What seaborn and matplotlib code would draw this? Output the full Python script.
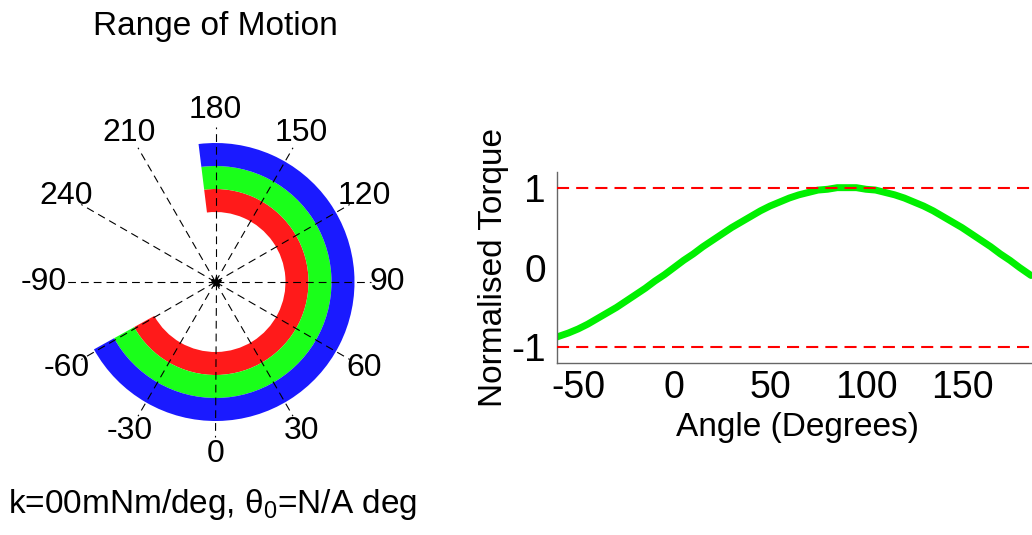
import numpy as np
import pandas as pd
import matplotlib
matplotlib.use("Agg")
import matplotlib.pyplot as plt
import seaborn as sns

# ---- Data ------------------------------------------------------------------

rom_start = -61   # degrees, start of range of motion
rom_end = 187     # degrees, end of range of motion

ring_names = ["inner", "middle", "outer"]
ring_colors = ["#ff1a1a", "#1aff1a", "#1a1aff"]

spoke_angles = [0, 30, 60, 90, 120, 150, 180, 210, 240, 270, 300, 330]
spoke_labels = ["0", "30", "60", "90", "120", "150", "180", "210", "240",
                "-90", "-60", "-30"]

angle_deg = [-61, -55, -50, -45, -40, -35, -30, -25, -20, -15, -10, -5, 0,
             5, 10, 15, 20, 25, 30, 35, 40, 45, 50, 55, 60, 65, 70, 75, 80,
             85, 90, 95, 100, 105, 110, 115, 120, 125, 130, 135, 140, 145,
             150, 155, 160, 165, 170, 175, 180, 186]
norm_torque = [-0.87, -0.82, -0.77, -0.71, -0.64, -0.57, -0.50, -0.42, -0.34,
               -0.26, -0.17, -0.09, 0.0, 0.09, 0.17, 0.26, 0.34, 0.42, 0.50,
               0.57, 0.64, 0.71, 0.77, 0.82, 0.87, 0.91, 0.94, 0.97, 0.98,
               1.0, 1.0, 1.0, 0.98, 0.97, 0.94, 0.91, 0.87, 0.82, 0.77, 0.71,
               0.64, 0.57, 0.50, 0.42, 0.34, 0.26, 0.17, 0.09, 0.0, -0.10]
torque_limits = [1, -1]

# ---- Style -------------------------------------------------------------------

sns.set_style("white")
plt.rcParams["font.family"] = ["Liberation Sans", "DejaVu Sans"]
plt.rcParams["mathtext.fontset"] = "custom"
plt.rcParams["mathtext.rm"] = "Liberation Sans"
plt.rcParams["mathtext.it"] = "Liberation Sans:italic"
plt.rcParams["axes.unicode_minus"] = False
for key in ["text.color", "axes.labelcolor", "xtick.labelcolor",
            "ytick.labelcolor"]:
    plt.rcParams[key] = "black"

W, H = 1032, 535
fig = plt.figure(figsize=(W / 100, H / 100), dpi=100)

# ---- Left: range-of-motion dial -----------------------------------------------

cx, cy, R = 215.5, 282, 175
ax_p = fig.add_axes([(cx - R) / W, (H - cy - R) / H, 2 * R / W, 2 * R / H],
                    projection="polar")
ax_p.set_theta_zero_location("S")
ax_p.set_theta_direction(1)
ax_p.set_ylim(0, R)
ax_p.axis("off")

ring_inner = 70
ring_width = 23
span = np.deg2rad(rom_end - rom_start)
for i, (name, col) in enumerate(zip(ring_names, ring_colors)):
    ax_p.bar(np.deg2rad(rom_start), ring_width, width=span,
             bottom=ring_inner + i * ring_width, align="edge",
             color=col, edgecolor="none", zorder=1)

for a, lab in zip(spoke_angles, spoke_labels):
    th = np.deg2rad(a)
    ax_p.plot([th, th], [0, 155], color="black", lw=0.8,
              ls=(0, (7, 4.5)), zorder=2)
    ax_p.text(th, 172, lab, ha="center", va="center", fontsize=23,
              clip_on=False)
ax_p.plot([0], [0], marker="*", color="black", markersize=8, zorder=3)

fig.text(215 / W, 1 - 26 / H, "Range of Motion", ha="center", va="center",
         fontsize=24)
fig.text(8 / W, 1 - 505 / H, r"k=00mNm/deg, θ$_0$=N/A deg", ha="left",
         va="center", fontsize=24)

# ---- Right: normalised torque curve ------------------------------------------

torque_df = pd.DataFrame({"angle": angle_deg, "torque": norm_torque})

x0, x1, y0, y1 = 557, 1032, 171.7, 363.3
ax_t = fig.add_axes([x0 / W, (H - y1) / H, (x1 - x0) / W, (y1 - y0) / H])
sns.lineplot(data=torque_df, x="angle", y="torque", color="#00f000", lw=5,
             ax=ax_t, zorder=2)
for lim in torque_limits:
    ax_t.axhline(lim, color="#ff0000", lw=1.5, ls=(0, (5.8, 3.4)), zorder=3)

ax_t.set_xlim(rom_start, 186.5)
ax_t.set_ylim(-1.2, 1.2)
ax_t.set_xticks([-50, 0, 50, 100, 150])
ax_t.set_yticks([-1, 0, 1])
ax_t.tick_params(direction="in", length=4, color="#666666")
ax_t.tick_params(axis="x", pad=5, labelsize=27)
ax_t.tick_params(axis="y", pad=8, labelsize=28)
for side in ["top", "right"]:
    ax_t.spines[side].set_visible(False)
for side in ["left", "bottom"]:
    ax_t.spines[side].set_color("#666666")
    ax_t.spines[side].set_linewidth(1)
ax_t.set_xlabel("Angle (Degrees)", fontsize=24)
ax_t.set_ylabel("Normalised Torque", fontsize=24)
ax_t.xaxis.set_label_coords((797 - x0) / (x1 - x0), (y1 - 412) / (y1 - y0))
ax_t.yaxis.set_label_coords((509 - x0) / (x1 - x0), 0.5)

fig.savefig("out.png", dpi=100)
